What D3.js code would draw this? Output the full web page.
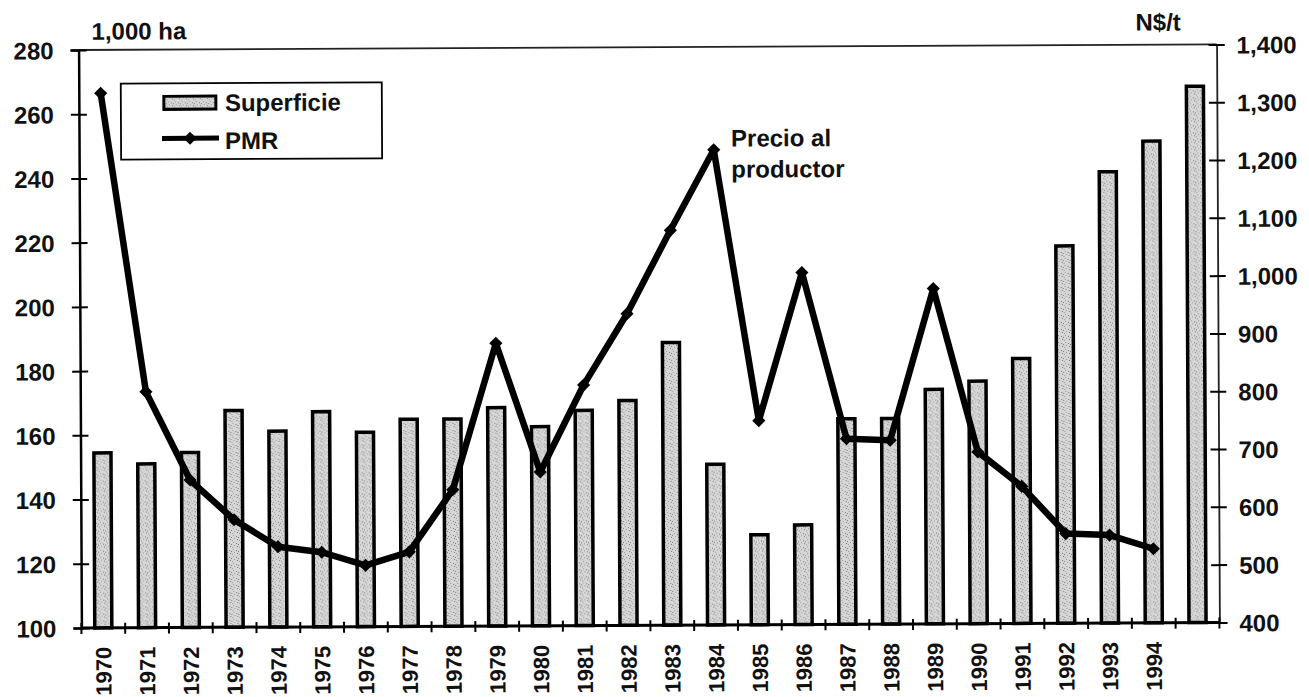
<!DOCTYPE html>
<html>
<head>
<meta charset="utf-8">
<script src="https://cdn.jsdelivr.net/npm/d3@7/dist/d3.min.js"></script>
<style>
  html, body { margin: 0; padding: 0; background: #fff; }
  svg { display: block; }
  text { font-family: "Liberation Sans", Arial, Helvetica, sans-serif; font-weight: bold; fill: #111; }
</style>
</head>
<body>
<svg id="chart" width="1309" height="697"></svg>
<script>
// ---- data ----
const years = [1970,1971,1972,1973,1974,1975,1976,1977,1978,1979,1980,1981,1982,1983,1984,1985,1986,1987,1988,1989,1990,1991,1992,1993,1994,1995];
const yearLabels = ["1970","1971","1972","1973","1974","1975","1976","1977","1978","1979","1980","1981","1982","1983","1984","1985","1986","1987","1988","1989","1990","1991","1992","1993","1994",""];
const superficie = [154.5,151,154.5,167.5,161,167,160.5,164.5,164.5,168,162,167,170,188,150,128,131,164,164,173,175.5,182.5,217.5,240.5,250,267];
const pmr = [1325,808,655,586,539,529,506,529,636,889,666,816,939,1083,1222,753,1009,721,718,980,697,637,555,552,528,null];
const leftTicks = [100,120,140,160,180,200,220,240,260,280];
const rightTicks = [400,500,600,700,800,900,1000,1100,1200,1300,1400];
const leftUnit = "1,000 ha";
const rightUnit = "N$/t";
const legendLabels = ["Superficie", "PMR"];
const annotation = ["Precio al", "productor"];

// ---- layout ----
const L = 80, R = 1218, T = 47.2, B = 625.2;
const svg = d3.select("#chart");

const defs = svg.append("defs");
const pat = defs.append("pattern").attr("id","stip").attr("patternUnits","userSpaceOnUse")
  .attr("width",7).attr("height",7);
pat.append("rect").attr("width",7).attr("height",7).attr("fill","#d6d6d6");
[[1,1],[4,2],[2,4],[5,5],[0,6],[6,3]].forEach(([px,py],i)=>{
  pat.append("rect").attr("x",px).attr("y",py).attr("width",1).attr("height",1)
    .attr("fill", i%2 ? "#7a7a7a" : "#9a9a9a");
});

const g = svg.append("g").attr("transform","rotate(-0.28 649 337)");

const x = d3.scaleBand().domain(years).range([L, R]).padding(0);
const yL = d3.scaleLinear().domain([100, 280]).range([B, T]);
const yR = d3.scaleLinear().domain([400, 1400]).range([B, T]);

// frame top
g.append("line").attr("x1",L).attr("x2",R).attr("y1",T).attr("y2",T)
  .attr("stroke","#222").attr("stroke-width",1.8);

// bars
const bw = x.bandwidth()*0.39;
g.append("g").selectAll("rect").data(years).join("rect")
  .attr("x", d => x(d) + x.bandwidth()/2 - bw/2)
  .attr("width", bw)
  .attr("y", (d,i) => yL(superficie[i]))
  .attr("height", (d,i) => B - yL(superficie[i]))
  .attr("fill","url(#stip)")
  .attr("stroke","#000").attr("stroke-width",3.5);

// left axis
const axL = g.append("g").attr("transform",`translate(${L},0)`)
  .call(d3.axisLeft(yL).tickValues(leftTicks).tickSize(8).tickPadding(17).tickFormat(d3.format("d")));
axL.select(".domain").attr("stroke","#000").attr("stroke-width",2.5);
axL.selectAll(".tick line").attr("x1",8).attr("stroke","#000").attr("stroke-width",2);
axL.selectAll(".tick text").attr("font-size",24).attr("font-weight","bold")
  .attr("font-family","Liberation Sans, Arial, sans-serif").attr("fill","#111").attr("dy","0.36em");

// right axis
const axR = g.append("g").attr("transform",`translate(${R},0)`)
  .call(d3.axisRight(yR).tickValues(rightTicks).tickSize(8).tickPadding(12).tickFormat(d3.format(",")));
axR.select(".domain").attr("stroke","#222").attr("stroke-width",1.8);
axR.selectAll(".tick line").attr("x1",-8).attr("stroke","#000").attr("stroke-width",2);
axR.selectAll(".tick text").attr("font-size",24).attr("font-weight","bold")
  .attr("font-family","Liberation Sans, Arial, sans-serif").attr("fill","#111").attr("dy","0.36em");

// bottom axis (ticks at category boundaries)
g.append("line").attr("x1",L).attr("x2",R).attr("y1",B).attr("y2",B)
  .attr("stroke","#000").attr("stroke-width",3);
const bounds = years.map(d => x(d)).concat([R]);
g.append("g").selectAll("line").data(bounds).join("line")
  .attr("x1", d => d).attr("x2", d => d).attr("y1", B-5).attr("y2", B+6)
  .attr("stroke","#000").attr("stroke-width",2);
g.append("g").selectAll("text").data(years).join("text")
  .attr("transform", d => `translate(${x(d)+x.bandwidth()/2},${B+19}) rotate(-90)`)
  .attr("text-anchor","end").attr("dy","0.36em").attr("font-size",22)
  .text((d,i) => yearLabels[i]);

// PMR line
const pts = years.map((d,i) => ({d, v: pmr[i]})).filter(p => p.v != null);
g.append("path").datum(pts)
  .attr("d", d3.line().x(p => x(p.d)+x.bandwidth()/2).y(p => yR(p.v)))
  .attr("fill","none").attr("stroke","#000").attr("stroke-width",6.5).attr("stroke-linejoin","round");
g.append("g").selectAll("path").data(pts).join("path")
  .attr("transform", p => `translate(${x(p.d)+x.bandwidth()/2},${yR(p.v)})`)
  .attr("d", d3.symbol(d3.symbolDiamond2, 110)())
  .attr("fill","#000");

// axis unit labels
g.append("text").attr("x",93).attr("y",37).attr("font-size",24).text(leftUnit);
g.append("text").attr("x",1137).attr("y",33).attr("font-size",24).text(rightUnit);

// legend
const lg = g.append("g");
lg.append("rect").attr("x",122).attr("y",81).attr("width",261).attr("height",76)
  .attr("fill","#fff").attr("stroke","#000").attr("stroke-width",1.8);
lg.append("rect").attr("x",165).attr("y",94).attr("width",52).attr("height",13)
  .attr("fill","url(#stip)").attr("stroke","#000").attr("stroke-width",3);
lg.append("text").attr("x",226).attr("y",109).attr("font-size",24).text(legendLabels[0]);
lg.append("line").attr("x1",163).attr("x2",220).attr("y1",136).attr("y2",136)
  .attr("stroke","#000").attr("stroke-width",5);
lg.append("path").attr("transform","translate(191,136)")
  .attr("d", d3.symbol(d3.symbolDiamond2, 110)()).attr("fill","#000");
lg.append("text").attr("x",226).attr("y",147).attr("font-size",24).text(legendLabels[1]);

// annotation
g.append("text").attr("x",732).attr("y",147).attr("font-size",24).text(annotation[0]);
g.append("text").attr("x",732).attr("y",178).attr("font-size",24).text(annotation[1]);
</script>
</body>
</html>
